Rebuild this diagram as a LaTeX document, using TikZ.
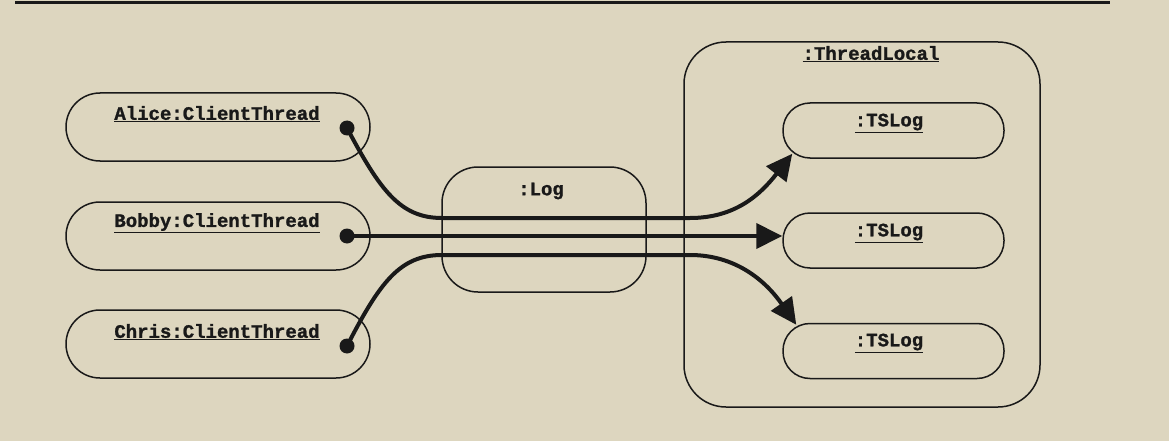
\documentclass[tikz,border=0pt]{standalone}
\usepackage{fontspec}
\setmainfont{Liberation Mono}[BoldFeatures={FakeBold=1.2}]
\usetikzlibrary{arrows.meta}
\definecolor{paper}{RGB}{221,214,191}
\definecolor{ink}{RGB}{25,25,25}
\tikzset{
  objbox/.style={draw=ink, line width=1.5pt, inner sep=0pt},
  lbl/.style={font=\fontsize{19}{22}\selectfont\bfseries, text=ink, inner sep=0pt},
  dotnode/.style={circle, fill=ink, inner sep=0pt, minimum size=15pt},
  wire/.style={draw=ink, line width=4pt},
  tip/.style={-{Triangle[length=26pt,width=25pt]}},
}
\newcommand{\ul}[1]{\underline{#1}}
\begin{document}
\begin{tikzpicture}[x=1pt,y=-1pt]
\fill[paper] (0,0) rectangle (1169,441);
\useasboundingbox (0,0) rectangle (1169,441);
\coordinate (tl0) at (15,3);
\coordinate (tl1) at (1110,3);
\draw[ink, line width=3pt] (tl0) -- (tl1);

% client threads
\node[objbox, rounded corners=34pt, minimum width=304pt, minimum height=68pt] (alice) at (218,127) {};
\node[objbox, rounded corners=34pt, minimum width=304pt, minimum height=68pt] (bobby) at (218,236) {};
\node[objbox, rounded corners=34pt, minimum width=304pt, minimum height=68pt] (chris) at (218,344) {};
\node[lbl] (alicet) at (217,114) {\ul{Alice:ClientThread}};
\node[lbl] (bobbyt) at (217,223) {\ul{Bobby:ClientThread}};
\node[lbl] (christ) at (217,332) {\ul{Chris:ClientThread}};

% log
\node[objbox, rounded corners=36pt, minimum width=204pt, minimum height=125pt] (log) at (544,229.5) {};
\node[lbl] (logt) at (541,191) {:Log};

% thread local
\node[objbox, rounded corners=42pt, minimum width=356pt, minimum height=365pt] (tloc) at (862,224.5) {};
\node[lbl] (tloct) at (871,54) {\ul{:ThreadLocal}};
\node[objbox, rounded corners=27pt, minimum width=221pt, minimum height=55pt] (ts1) at (893.5,130.5) {};
\node[objbox, rounded corners=27pt, minimum width=221pt, minimum height=55pt] (ts2) at (893.5,240.5) {};
\node[objbox, rounded corners=27pt, minimum width=221pt, minimum height=55pt] (ts3) at (893.5,351) {};
\node[lbl] (ts1t) at (889,123) {\ul{:TSLog}};
\node[lbl] (ts2t) at (889,233) {\ul{:TSLog}};
\node[lbl] (ts3t) at (889,343) {\ul{:TSLog}};

% dots
\node[dotnode] (da) at (347,128) {};
\node[dotnode] (db) at (347,236) {};
\node[dotnode] (dc) at (347,346) {};

% wires
\draw[wire, tip] (da.center) .. controls (380,190) and (400,218) .. (442,218)
  -- (690,218) .. controls (735,218) and (760,195) .. ([shift={(10,-5)}]ts1.south west);
\draw[wire, tip] (db.center) -- (db.center -| ts2.west);
\draw[wire, tip] (dc.center) .. controls (380,282) and (400,255) .. (442,255)
  -- (690,255) .. controls (735,255) and (765,280) .. ([shift={(14,2)}]ts3.north west);
\end{tikzpicture}
\end{document}
